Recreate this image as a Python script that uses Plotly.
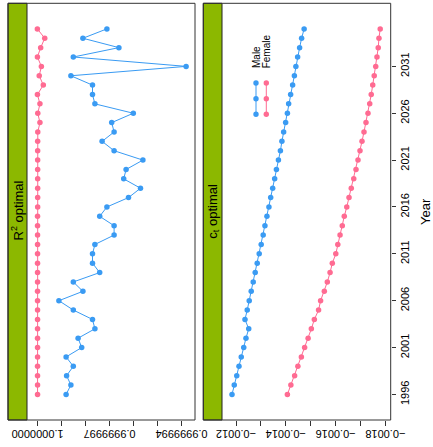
import plotly.graph_objects as go

# ---- data -------------------------------------------------------------
years = list(range(1996, 2036))

r2_male = [
    0.99999988, 0.99999986, 0.999999878, 0.99999985, 0.99999988,
    0.999999815, 0.99999983, 0.99999976, 0.99999977, 0.99999985,
    0.99999991, 0.99999981, 0.99999985, 0.99999974, 0.99999977,
    0.99999977, 0.99999976, 0.99999968, 0.99999968, 0.99999974,
    0.99999971, 0.99999962, 0.99999957, 0.99999964, 0.99999963,
    0.99999956, 0.99999968, 0.99999973, 0.99999968, 0.99999969,
    0.99999960, 0.99999976, 0.99999977, 0.99999977, 0.99999986,
    0.99999938, 0.99999985, 0.99999966, 0.99999981, 0.99999971,
]
r2_female = [
    0.999999999, 0.999999999, 0.999999999, 0.999999999, 0.999999999,
    0.999999999, 0.999999999, 0.999999999, 0.999999999, 0.999999999,
    0.999999999, 0.999999999, 0.999999999, 0.999999999, 0.999999999,
    0.999999999, 0.999999999, 0.999999999, 0.999999999, 0.999999999,
    0.9999999985, 0.9999999985, 0.9999999985, 0.9999999985, 0.9999999985,
    0.9999999985, 0.9999999985, 0.9999999985, 0.999999998, 0.999999989,
    0.999999998, 0.999999989, 0.9999999995, 0.999999975, 0.999999992,
    0.999999983, 0.9999999995, 0.999999986, 0.999999969, 0.9999999998,
]
ct_male = [
    -0.001184, -0.001193, -0.001203, -0.001212, -0.001221,
    -0.001231, -0.001240, -0.001251, -0.001236, -0.001245,
    -0.001253, -0.001261, -0.001269, -0.001277, -0.001285,
    -0.001293, -0.001301, -0.001309, -0.001316, -0.001324,
    -0.001332, -0.001339, -0.001347, -0.001355, -0.001362,
    -0.001370, -0.001378, -0.001384, -0.001391, -0.001399,
    -0.001406, -0.001411, -0.001419, -0.001427, -0.001434,
    -0.001440, -0.001447, -0.001455, -0.001463, -0.001473,
]
ct_female = [
    -0.001406, -0.001420, -0.001435, -0.001448, -0.001462,
    -0.001475, -0.001489, -0.001502, -0.001514, -0.001531,
    -0.001539, -0.001554, -0.001566, -0.001577, -0.001586,
    -0.001600, -0.001608, -0.001617, -0.001626, -0.001634,
    -0.001644, -0.001653, -0.001662, -0.001672, -0.001681,
    -0.001689, -0.001697, -0.001705, -0.001713, -0.001721,
    -0.001729, -0.001736, -0.001742, -0.001748, -0.001754,
    -0.001760, -0.001765, -0.001770, -0.001773, -0.001778,
]

year_ticks = [1996, 2001, 2006, 2011, 2016, 2021, 2026, 2031]
r2_ticks = [1.0, 0.9999999, 0.9999998, 0.9999997, 0.9999996, 0.9999995, 0.9999994]
r2_ticktext = ["1.0000000", "", "", "0.9999997", "", "", "0.9999994"]
ct_ticks = [-0.0012, -0.0013, -0.0014, -0.0015, -0.0016, -0.0017, -0.0018]
ct_ticktext = ["\u22120.0012", "", "\u22120.0014", "", "\u22120.0016", "", "\u22120.0018"]

panel_titles = ["R<sup>2</sup> optimal", "c<sub>t</sub> optimal"]
series_names = ["Male", "Female"]

# ---- styling ----------------------------------------------------------
W, H = 433, 447
BLUE = "#3A9BF3"
PINK = "#FF6B92"
STRIP = "#8CB800"
FONT = "Liberation Sans, Arial, sans-serif"
colors = [BLUE, PINK]


def px(x):
    return x / W


def py(y):
    return 1 - y / H


fig = go.Figure()

for name, col, vals in zip(series_names, colors, [r2_male, r2_female]):
    fig.add_trace(go.Scatter(
        x=vals, y=years, xaxis="x", yaxis="y", mode="lines+markers",
        name=name, showlegend=False,
        line=dict(color=col, width=1),
        marker=dict(color=col, size=5.5),
    ))

for name, col, vals in zip(series_names, colors, [ct_male, ct_female]):
    fig.add_trace(go.Scatter(
        x=vals, y=years, xaxis="x2", yaxis="y", mode="lines+markers",
        name=name, showlegend=False,
        line=dict(color=col, width=1),
        marker=dict(color=col, size=5.5),
    ))

# panel geometry (pixels)
top, bottom = 3.3, 420
panels = [(8, 27, 195), (203.3, 222, 390.7)]

shapes = []
annotations = []
for (left, strip_right, right), title in zip(panels, panel_titles):
    shapes.append(dict(type="rect", xref="paper", yref="paper",
                       x0=px(left), x1=px(strip_right), y0=py(bottom), y1=py(top),
                       fillcolor=STRIP, line=dict(color="#222", width=1)))
    shapes.append(dict(type="rect", xref="paper", yref="paper",
                       x0=px(left), x1=px(right), y0=py(bottom), y1=py(top),
                       fillcolor="rgba(0,0,0,0)", line=dict(color="#333", width=1)))
    annotations.append(dict(text=title, xref="paper", yref="paper",
                            x=px((left + strip_right) / 2), y=py(211),
                            textangle=-90, showarrow=False,
                            xanchor="center", yanchor="middle",
                            font=dict(family=FONT, size=13, color="black")))

# upside-down value labels under each panel, placed at their tick values
for xref, vals, texts in [("x", r2_ticks, r2_ticktext), ("x2", ct_ticks, ct_ticktext)]:
    for v, t in zip(vals, texts):
        if not t:
            continue
        annotations.append(dict(text=t, xref=xref, yref="paper",
                                x=v, y=py(434), textangle=180, showarrow=False,
                                xanchor="center", yanchor="middle",
                                font=dict(family=FONT, size=11, color="black")))

# key inside the second panel
key_x = [256, 266.3]
key_pts = [83, 98.7, 114.3]
for kx, col, name in zip(key_x, colors, series_names):
    shapes.append(dict(type="line", xref="paper", yref="paper",
                       x0=px(kx), x1=px(kx), y0=py(key_pts[0]), y1=py(key_pts[-1]),
                       line=dict(color=col, width=1)))
    for kp in key_pts:
        r = 2.7
        shapes.append(dict(type="circle", xref="paper", yref="paper",
                           x0=px(kx - r), x1=px(kx + r), y0=py(kp + r), y1=py(kp - r),
                           fillcolor=col, line=dict(color=col, width=0)))
    annotations.append(dict(text=name, xref="paper", yref="paper",
                            x=px(kx), y=py(70), textangle=-90, showarrow=False,
                            xanchor="center", yanchor="bottom",
                            font=dict(family=FONT, size=10, color="black")))

annotations.append(dict(text="Year", xref="paper", yref="paper",
                        x=px(425), y=py(212), textangle=-90, showarrow=False,
                        xanchor="center", yanchor="middle",
                        font=dict(family=FONT, size=13, color="black")))

# value ranges match the panel extents
r2_range = [1.0 + (37.3 - 27) / 24 * 1e-7, 1.0 - (195 - 37.3) / 24 * 1e-7]
ct_range = [-0.0012 + (236 - 222) / 24.95 * 1e-4, -0.0012 - (390.7 - 236) / 24.95 * 1e-4]

axis_common = dict(showgrid=False, zeroline=False, showline=False,
                   automargin=False, showticklabels=False,
                   ticks="outside", ticklen=5, tickcolor="#333", tickwidth=1)

fig.update_layout(
    width=W, height=H,
    margin=dict(l=0, r=0, t=0, b=0, pad=0),
    paper_bgcolor="white", plot_bgcolor="white",
    showlegend=False,
    xaxis=dict(domain=[px(27), px(195)], range=r2_range, anchor="y",
               tickmode="array", tickvals=r2_ticks, **axis_common),
    xaxis2=dict(domain=[px(222), px(390.7)], range=ct_range, anchor="y",
                tickmode="array", tickvals=ct_ticks, **axis_common),
    yaxis=dict(domain=[py(bottom), py(top)], range=[1993.27, 2037.73],
               anchor="x2", side="right", automargin=False,
               tickmode="array", tickvals=year_ticks,
               showgrid=False, zeroline=False, showline=False,
               ticks="outside", ticklen=4, tickcolor="#333", tickwidth=1,
               tickangle=-90,
               tickfont=dict(family=FONT, size=11, color="black")),
    shapes=shapes,
    annotations=annotations,
)

fig.write_html("out.html")
